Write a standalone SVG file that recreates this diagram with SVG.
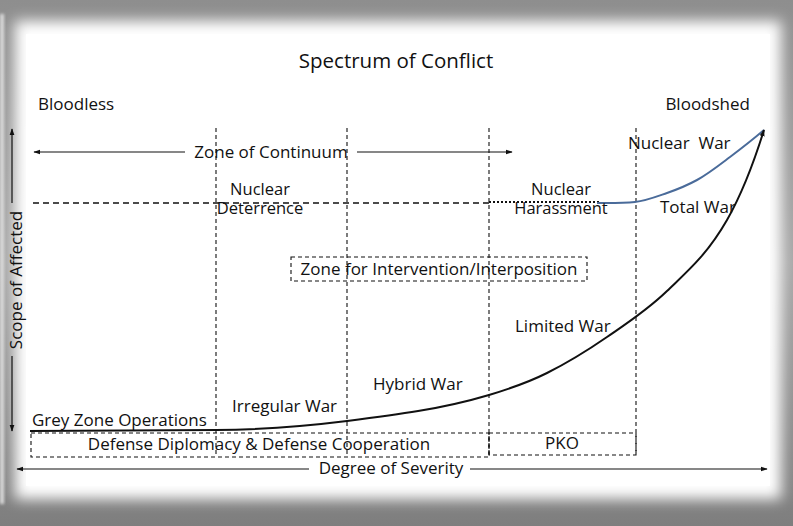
<svg xmlns="http://www.w3.org/2000/svg" width="793" height="526" viewBox="0 0 793 526">
<defs>
<style>
text{font-family:"Open Sans","DejaVu Sans",sans-serif;font-size:17px;fill:#111}
.c{text-anchor:middle}
.two{font-size:16.5px}
.dash{fill:none;stroke:#111;stroke-width:1.1;stroke-dasharray:4 3}
.ln{fill:none;stroke:#111;stroke-width:1.2}
</style>
<linearGradient id="bg" x1="0" y1="0" x2="0" y2="1">
<stop offset="0" stop-color="#8e8e8e"/>
<stop offset="0.5" stop-color="#a8a8a8"/>
<stop offset="1" stop-color="#7e7e7e"/>
</linearGradient>
<filter id="blur" x="-10%" y="-10%" width="120%" height="120%"><feGaussianBlur stdDeviation="7"/></filter>
<filter id="blur2" x="-50%" y="-10%" width="200%" height="120%"><feGaussianBlur stdDeviation="1.5"/></filter>
<marker id="ah" viewBox="0 0 10 10" refX="9" refY="5" markerWidth="7" markerHeight="7" orient="auto-start-reverse" markerUnits="userSpaceOnUse">
<path d="M0,1.5 L10,5 L0,8.5 Z" fill="#111"/>
</marker>
</defs>
<g id="frame">
<rect x="0" y="0" width="793" height="526" fill="url(#bg)"/>
<rect x="0" y="14" width="4" height="490" fill="#dadada" filter="url(#blur2)"/>
<rect x="15" y="21" width="766" height="478" fill="#fff" filter="url(#blur)"/>
<rect x="26" y="34" width="744" height="452" fill="#fff"/>
</g>
<g id="connectors">
<line x1="216" y1="128" x2="216" y2="455" class="dash"/>
<line x1="347" y1="128" x2="347" y2="455" class="dash"/>
<line x1="489" y1="128" x2="489" y2="457" class="dash"/>
<line x1="636" y1="128" x2="636" y2="455" class="dash"/>
<line x1="33" y1="203" x2="489" y2="203" fill="none" stroke="#111" stroke-width="1.4" stroke-dasharray="6 4"/>
<line x1="489" y1="202" x2="600" y2="202" fill="none" stroke="#111" stroke-width="2" stroke-dasharray="2 2"/>
<path d="M597,203 C609.7,203 622.3,203.3 635,202 C645.7,200.9 656.3,196.7 667,193 C677,189.5 687,185.5 697,180 C708,174 719,165.3 730,157 C741.3,148.5 752.7,139.6 764,130" fill="none" stroke="#4a6b9a" stroke-width="2"/>
<path d="M30,431 C92,431 154,430.6 216,430 C259.7,429.6 303.3,426.5 347,421 C394.3,415.1 441.7,409.2 489,395 C508.3,389.2 527.7,382.7 547,373 C567,363 587,350.8 607,337 C627,323.2 647,310.4 667,291 C687,271.6 707,255 727,220 C739.3,198.5 751.7,169.4 764,130" fill="none" stroke="#111" stroke-width="2" marker-end="url(#ah)"/>
<line x1="185" y1="152" x2="34" y2="152" class="ln" marker-end="url(#ah)"/>
<line x1="357" y1="152" x2="512" y2="152" class="ln" marker-end="url(#ah)"/>
<line x1="309" y1="469" x2="17" y2="469" class="ln" marker-end="url(#ah)"/>
<line x1="470" y1="469" x2="767" y2="469" class="ln" marker-end="url(#ah)"/>
<line x1="12" y1="203" x2="12" y2="129" class="ln" marker-end="url(#ah)"/>
<line x1="12" y1="356" x2="12" y2="431" class="ln" marker-end="url(#ah)"/>
</g>
<g id="title"><text x="396" y="68" class="c" style="font-size:20.5px">Spectrum of Conflict</text></g>
<g id="bloodless"><text x="38" y="110">Bloodless</text></g>
<g id="bloodshed"><text x="750" y="110" style="text-anchor:end">Bloodshed</text></g>
<g id="zone-continuum"><text x="271" y="158" class="c">Zone of Continuum</text></g>
<g id="nuclear-deterrence"><text x="260" y="195" class="c two">Nuclear</text><text x="260" y="214" class="c two">Deterrence</text></g>
<g id="nuclear-harassment"><text x="561" y="195" class="c two">Nuclear</text><text x="561" y="214" class="c two">Harassment</text></g>
<g id="nuclear-war"><text x="628" y="149" xml:space="preserve">Nuclear  War</text></g>
<g id="total-war"><text x="660" y="213">Total War</text></g>
<g id="zone-intervention"><rect x="291" y="257" width="296" height="24" class="dash"/><text x="439" y="275" class="c">Zone for Intervention/Interposition</text></g>
<g id="limited-war"><text x="515" y="332">Limited War</text></g>
<g id="hybrid-war"><text x="373" y="390">Hybrid War</text></g>
<g id="irregular-war"><text x="232" y="412">Irregular War</text></g>
<g id="grey-zone"><text x="32" y="426">Grey Zone Operations</text></g>
<g id="defense-diplomacy"><rect x="31" y="433" width="458" height="24" class="dash"/><text x="259" y="450" class="c">Defense Diplomacy &amp; Defense Cooperation</text></g>
<g id="pko"><rect x="489" y="433" width="147" height="22" class="dash"/><text x="562" y="449" class="c">PKO</text></g>
<g id="degree"><text x="391" y="474" class="c">Degree of Severity</text></g>
<g id="scope"><text x="0" y="0" class="c" transform="translate(22,280) rotate(-90)">Scope of Affected</text></g>
</svg>
